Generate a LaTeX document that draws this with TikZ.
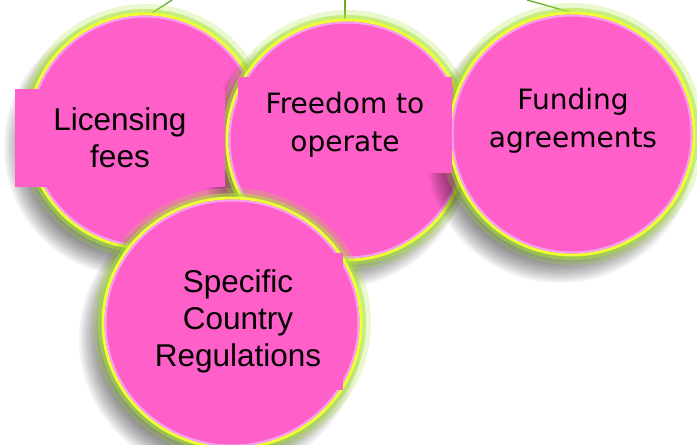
\documentclass[tikz,border=0pt]{standalone}
\usepackage{fontspec}
\setmainfont{Liberation Sans}
\newfontfamily\dejavu{DejaVu Sans}
\definecolor{bpink}{RGB}{255,95,200}
\definecolor{brim}{RGB}{238,255,50}
\definecolor{bglow}{RGB}{170,228,60}
\definecolor{blav}{RGB}{245,160,245}
\definecolor{bline}{RGB}{110,170,40}
\newcommand\mybubble[5]{%
  \coordinate (#1) at (#2,#3);
  \begin{scope}[shift={(#2-12,#3+16)}]
    \foreach \d in {12,10,...,-14}
      \fill[black,opacity=0.048] (0,0) ellipse [x radius=#4+\d, y radius=#5+\d];
  \end{scope}
  \draw[bglow,opacity=0.25,line width=14] (#1) ellipse [x radius=#4+3, y radius=#5+3];
  \draw[bglow,opacity=0.55,line width=7] (#1) ellipse [x radius=#4+1.5, y radius=#5+1.5];
  \fill[bpink] (#1) ellipse [x radius=#4, y radius=#5];
  \draw[brim,line width=3] (#1) ellipse [x radius=#4, y radius=#5];
  \draw[blav,line width=2] (#1) ellipse [x radius=#4-2.5, y radius=#5-2.5];
}
\tikzset{
  box/.style={fill=bpink, inner sep=0pt, align=center, text=black},
  bigtxt/.style={font=\fontsize{31.5}{37}\selectfont},
  widetxt/.style={font=\dejavu\fontsize{28}{38}\selectfont},
  stem/.style={bline, line width=1.3}
}
\begin{document}
\begin{tikzpicture}[x=1pt,y=-1pt]
\useasboundingbox (0,0) rectangle (697,445);
\clip (0,0) rectangle (697,445);
\fill[white] (0,0) rectangle (697,445);
% stems
\coordinate (s1) at (152,13); \coordinate (e1) at (172,0);
\coordinate (s2) at (345,24); \coordinate (e2) at (345,0);
\coordinate (s3) at (570,12); \coordinate (e3) at (527,0);
\draw[stem] (s1) -- (e1);
\draw[stem] (s2) -- (e2);
\draw[stem] (s3) -- (e3);
% bubbles
\mybubble{c1}{145}{131}{117}{117}
\mybubble{c2}{347}{140}{120}{120}
\mybubble{c3}{572}{134}{122}{121}
\mybubble{c4}{232}{323}{129}{125}
% text boxes
\node[box, bigtxt, minimum width=210, minimum height=98] (r1) at (120,138) {Licensing\\fees};
\node[box, widetxt, minimum width=214, minimum height=96] (r2) at (345,125) {Freedom to\\operate};
\node[widetxt, inner sep=0pt, align=center] (r3) at (573,121) {Funding\\agreements};
\node[box, bigtxt, minimum width=210, minimum height=137] (r4) at (238,321.5) {Specific\\Country\\Regulations};
\end{tikzpicture}
\end{document}
